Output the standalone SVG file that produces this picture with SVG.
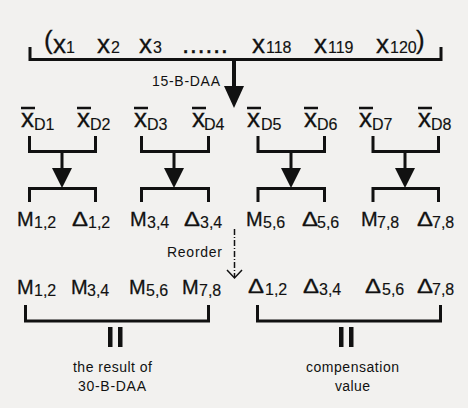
<svg xmlns="http://www.w3.org/2000/svg" width="468" height="408" viewBox="0 0 468 408">
<style>
text{font-family:"Liberation Sans",Arial,sans-serif;fill:#111}
.big{font-size:26px;stroke:#111;stroke-width:0.3}
.m{font-size:20px;stroke:#111;stroke-width:0.3}
.d{font-size:21px;stroke:#111;stroke-width:0.3}
.s{font-size:16px;stroke:#111;stroke-width:0.15}
.lab{font-size:14px}
.ln{stroke:#111;stroke-width:3;fill:none}
.ov{stroke:#111;stroke-width:2.5}
.hd{fill:#111}
</style>
<rect x="0" y="0" width="468" height="408" fill="#f2f1ef"/>
<g id="input-vector">
<text class="big" x="44" y="49">(</text>
<text class="big" x="53" y="53">x</text><text class="s" x="66" y="53">1</text>
<text class="big" x="97" y="53">x</text><text class="s" x="111" y="53">2</text>
<text class="big" x="139" y="53">x</text><text class="s" x="153" y="53">3</text>
<text class="big" x="182" y="53" textLength="46" lengthAdjust="spacing">......</text>
<text class="big" x="252" y="53">x</text><text class="s" x="266" y="53">118</text>
<text class="big" x="314" y="53">x</text><text class="s" x="328" y="53">119</text>
<text class="big" x="376" y="53">x</text><text class="s" x="390" y="53">120</text>
<text class="big" x="416" y="49">)</text>
</g>
<g id="xd1"><line class="ov" x1="21" y1="108" x2="35" y2="108"/><text class="big" x="21" y="127">x</text><text class="s" x="34" y="130">D1</text></g>
<g id="xd2"><line class="ov" x1="77" y1="108" x2="91" y2="108"/><text class="big" x="77" y="127">x</text><text class="s" x="90" y="130">D2</text></g>
<g id="xd3"><line class="ov" x1="134" y1="108" x2="148" y2="108"/><text class="big" x="134" y="127">x</text><text class="s" x="147" y="130">D3</text></g>
<g id="xd4"><line class="ov" x1="192" y1="108" x2="206" y2="108"/><text class="big" x="192" y="127">x</text><text class="s" x="204" y="130">D4</text></g>
<g id="xd5"><line class="ov" x1="247" y1="108" x2="261" y2="108"/><text class="big" x="247" y="127">x</text><text class="s" x="261" y="130">D5</text></g>
<g id="xd6"><line class="ov" x1="304" y1="108" x2="318" y2="108"/><text class="big" x="304" y="127">x</text><text class="s" x="317" y="130">D6</text></g>
<g id="xd7"><line class="ov" x1="359" y1="108" x2="373" y2="108"/><text class="big" x="359" y="127">x</text><text class="s" x="372" y="130">D7</text></g>
<g id="xd8"><line class="ov" x1="418" y1="108" x2="432" y2="108"/><text class="big" x="418" y="127">x</text><text class="s" x="431" y="130">D8</text></g>
<g id="row2">
<text class="m" x="17" y="226">M</text><text class="s" x="34" y="228">1,2</text>
<text class="d" x="72" y="226" textLength="16" lengthAdjust="spacingAndGlyphs">Δ</text><text class="s" x="88" y="228">1,2</text>
<text class="m" x="130" y="226">M</text><text class="s" x="147" y="228">3,4</text>
<text class="d" x="184" y="226" textLength="16" lengthAdjust="spacingAndGlyphs">Δ</text><text class="s" x="200" y="228">3,4</text>
<text class="m" x="246" y="226">M</text><text class="s" x="263" y="228">5,6</text>
<text class="d" x="302" y="226" textLength="16" lengthAdjust="spacingAndGlyphs">Δ</text><text class="s" x="317" y="228">5,6</text>
<text class="m" x="361" y="226">M</text><text class="s" x="377" y="228">7,8</text>
<text class="d" x="417" y="226" textLength="16" lengthAdjust="spacingAndGlyphs">Δ</text><text class="s" x="432" y="228">7,8</text>
</g>
<g id="row3">
<text class="m" x="17" y="294">M</text><text class="s" x="34" y="296">1,2</text>
<text class="m" x="71" y="294">M</text><text class="s" x="87" y="296">3,4</text>
<text class="m" x="129" y="294">M</text><text class="s" x="146" y="296">5,6</text>
<text class="m" x="182" y="294">M</text><text class="s" x="199" y="296">7,8</text>
<text class="d" x="248" y="293" textLength="16" lengthAdjust="spacingAndGlyphs">Δ</text><text class="s" x="265" y="295">1,2</text>
<text class="d" x="303" y="293" textLength="16" lengthAdjust="spacingAndGlyphs">Δ</text><text class="s" x="319" y="295">3,4</text>
<text class="d" x="365" y="293" textLength="16" lengthAdjust="spacingAndGlyphs">Δ</text><text class="s" x="382" y="295">5,6</text>
<text class="d" x="417" y="293" textLength="16" lengthAdjust="spacingAndGlyphs">Δ</text><text class="s" x="432" y="295">7,8</text>
</g>
<g id="result-label">
<rect x="108" y="327" width="4.5" height="20" class="hd"/><rect x="118" y="327" width="4.5" height="20" class="hd"/>
<text class="lab" x="73" y="372" textLength="79" lengthAdjust="spacing">the result of</text>
<text class="lab" x="78" y="391" textLength="68" lengthAdjust="spacing">30-B-DAA</text>
</g>
<g id="compensation-label">
<rect x="339" y="327" width="4.5" height="20" class="hd"/><rect x="349" y="327" width="4.5" height="20" class="hd"/>
<text class="lab" x="306" y="372" textLength="93" lengthAdjust="spacing">compensation</text>
<text class="lab" x="335" y="391" textLength="35" lengthAdjust="spacing">value</text>
</g>
<g id="connectors">
<path class="ln" d="M30,47 V59.5 H441 V47"/>
<line x1="234" y1="59" x2="234" y2="90" stroke="#111" stroke-width="4"/>
<polygon class="hd" points="224,86 244,86 234,108"/>
<text class="lab" x="152" y="86" textLength="68" lengthAdjust="spacing">15-B-DAA</text>
<path class="ln" d="M29.5,136 V151.5 H95.5 V136 M29.5,202 V188.5 H95.5 V202 M62,151.5 V172"/>
<polygon class="hd" points="52,168 72,168 62,188"/>
<path class="ln" d="M141.5,136 V151.5 H208.5 V136 M141.5,202 V188.5 H208.5 V202 M174,151.5 V172"/>
<polygon class="hd" points="164,168 184,168 174,188"/>
<path class="ln" d="M258,136 V151.5 H324.5 V136 M258,202 V188.5 H324.5 V202 M291,151.5 V172"/>
<polygon class="hd" points="281,168 301,168 291,188"/>
<path class="ln" d="M373,136 V151.5 H438.5 V136 M373,202 V188.5 H438.5 V202 M405,151.5 V172"/>
<polygon class="hd" points="395,168 415,168 405,188"/>
<line x1="234.5" y1="229" x2="234.5" y2="277" stroke="#111" stroke-width="1.5" stroke-dasharray="6,2,1,2"/>
<path d="M227,270 L234.5,278 L242,270" stroke="#111" stroke-width="1.5" fill="none"/>
<text class="lab" x="167" y="257" textLength="55" lengthAdjust="spacing">Reorder</text>
<path class="ln" d="M25.5,305 V321 H208.5 V305"/>
<path class="ln" d="M257.5,305 V321 H440.5 V305"/>
</g>
</svg>
